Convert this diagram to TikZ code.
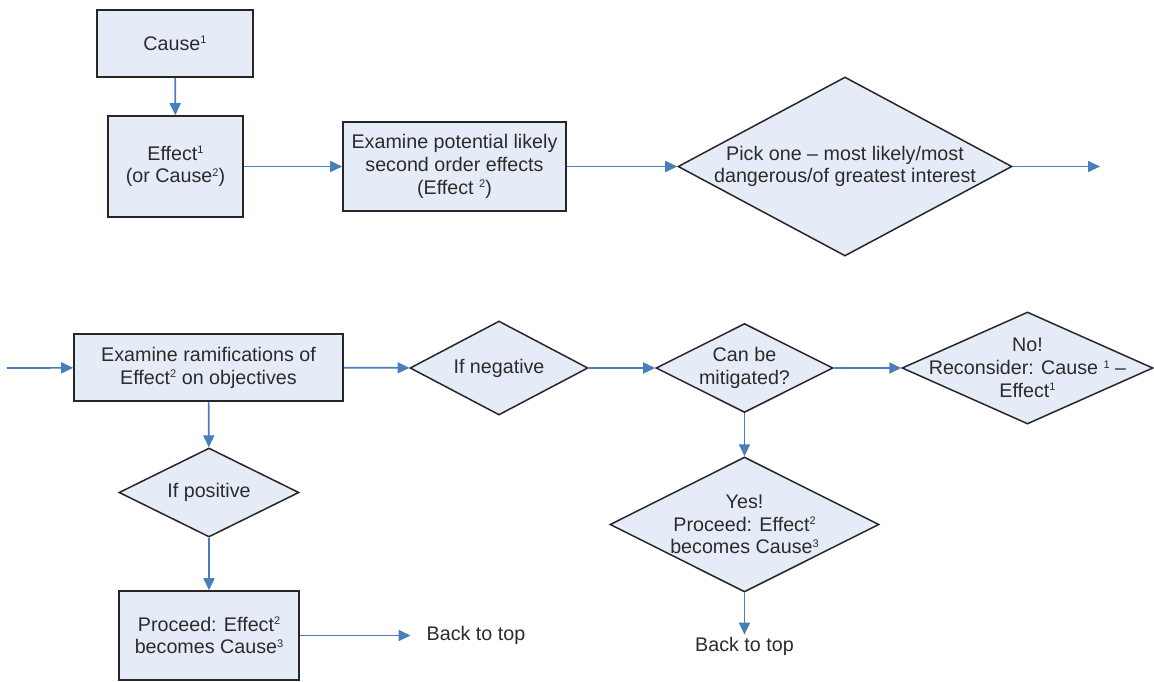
\documentclass[tikz,border=0pt]{standalone}
\usepackage{fontspec}
\setmainfont{Liberation Sans}
\usetikzlibrary{shapes.geometric,arrows.meta}
\definecolor{boxfill}{HTML}{E6ECF7}
\definecolor{arrowblue}{HTML}{4A7EBB}
\definecolor{txt}{HTML}{2B2B2B}
\definecolor{edge}{HTML}{262626}
\newcommand\sups[1]{\raisebox{6.5pt}{\fontsize{11}{11}\selectfont #1}}
\begin{document}
\begin{tikzpicture}[x=1pt,y=-1pt,
  every node/.style={font=\fontsize{19.7}{22.8}\selectfont, text=txt},
  box/.style={draw=edge, line width=1.6pt, fill=boxfill, align=center, inner sep=0pt},
  diam/.style={draw=edge, line width=1.5pt, fill=boxfill, diamond, inner sep=0pt},
  dtext/.style={label={[align=center, inner sep=0pt]center:{#1}}},
  conn/.style={draw=arrowblue, line width=1.7pt, -{Triangle[length=12pt,width=11pt]}},
  plain/.style={inner sep=0pt},
]
\useasboundingbox (0,0) rectangle (1154,681);

% top row
\node[box, minimum width=156, minimum height=67] (cause) at (175,43.5) {Cause\sups{1}};
\node[box, minimum width=135, minimum height=101] (effect) at (175.5,166.5) {Effect\sups{1}\\(or Cause\sups{2})};
\node[box, minimum width=223, minimum height=89] (exam) at (454.5,166.5) {Examine potential likely\\second order effects\\(Effect \sups{2})};
\node[diam, minimum width=334, minimum height=179, dtext={Pick one -- most likely/most\\dangerous/of greatest interest}] (pick) at (845,166.5) {};
\coordinate (topout) at (1100,166.5);

% bottom row
\coordinate (botin) at (7,368);
\node[box, minimum width=269, minimum height=67] (ramif) at (208.5,367.5) {Examine ramifications of\\Effect\sups{2} on objectives};
\node[diam, minimum width=178, minimum height=94, dtext={If negative}] (neg) at (499,368) {};
\node[diam, minimum width=177, minimum height=89, dtext={Can be\\mitigated?}] (mitig) at (744.5,368) {};
\node[diam, minimum width=251, minimum height=112, dtext={No!\\Reconsider: Cause \sups{1} --\\Effect\sups{1}}] (no) at (1027.5,368) {};
\node[diam, minimum width=180, minimum height=89, dtext={If positive}] (pos) at (209,492.5) {};
\node[box, minimum width=180, minimum height=89] (proc) at (209,635.5) {Proceed: Effect\sups{2}\\becomes Cause\sups{3}};
\node[plain] (back1) at (476,635.5) {Back to top};
\node[diam, minimum width=269, minimum height=135, dtext={Yes!\\Proceed: Effect\sups{2}\\becomes Cause\sups{3}}] (yes) at (744.5,524.5) {};
\node[plain] (back2) at (744.5,646) {Back to top};

% connectors
\draw[conn] (cause) -- (effect);
\draw[conn] (effect) -- (exam);
\draw[conn] (exam) -- (pick);
\draw[conn] (pick) -- (topout);
\draw[conn] (botin) -- (ramif);
\draw[conn] (ramif) -- (neg);
\draw[conn] (neg) -- (mitig);
\draw[conn] (mitig) -- (no);
\draw[conn] (ramif) -- (pos);
\draw[conn] (pos) -- (proc);
\draw[conn, shorten >=16pt] (proc.east) -- (back1.west);
\draw[conn] (mitig) -- (yes);
\draw[conn, shorten >=2pt] (yes.south) -- (back2.north);
\end{tikzpicture}
\end{document}
